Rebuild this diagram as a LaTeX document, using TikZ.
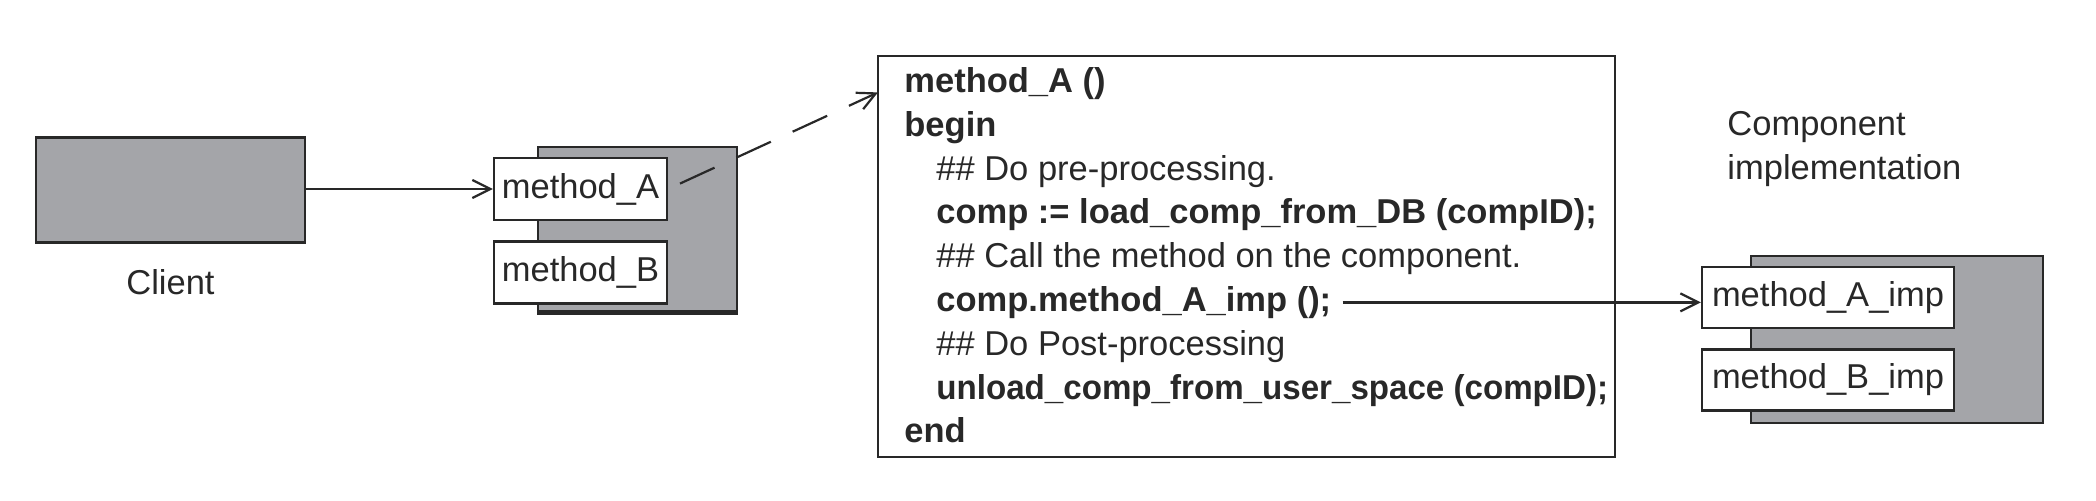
\documentclass[tikz,border=0pt]{standalone}
\usepackage{fontspec}
\setmainfont{Liberation Sans}
\usepackage{graphicx}
\usetikzlibrary{matrix,positioning,arrows.meta}

\definecolor{compgray}{RGB}{164,165,169}
\definecolor{inkgray}{RGB}{40,40,40}
\newcommand{\picfont}{\fontsize{17.25pt}{22pt}\selectfont}

\begin{document}
\begin{tikzpicture}[%
        x=0.5pt, y=-0.5pt,
        font=\picfont, text=inkgray,
        graybox/.style={draw=inkgray, line width=1.2pt, fill=compgray},
        methodbox/.style={draw=inkgray, line width=1.2pt, fill=white,
            minimum width=86.5pt, minimum height=31pt, inner sep=0pt},
        call/.style={draw=inkgray, line width=1.1pt,
            -{Straight Barb[length=9pt,width=9pt]}}
        ]
    \useasboundingbox (0,0) rectangle (2096,500);

    % Client
    \node (client) [graybox, minimum width=134.5pt, minimum height=52.5pt] at (170.5,190) {};
    \node (clientlbl) [below=9.5pt of client] {Client};

    % Komponente mit Methoden
    \node (comp) [graybox, minimum width=99.5pt, minimum height=82pt] at (637.5,229) {};
    \draw [inkgray, line width=2.4pt] (comp.south west) -- (comp.south east);
    \node (mA) [methodbox] at (580.5,189) {method\_A};
    \node (mB) [methodbox, below=9.5pt of mA] {method\_B};

    % Rahmen und Code
    \node (codebox) [draw=inkgray, line width=1.1pt, inner sep=0pt, outer sep=0pt,
        minimum width=368.5pt, minimum height=200.5pt, anchor=north west] at (878,56) {};
    \matrix (code) [
        matrix of nodes, anchor=north west,
        inner sep=0pt, row sep=4.9pt,
        nodes={anchor=base west, inner sep=0pt, text height=13pt, text depth=4pt,
            font=\picfont\bfseries},
        row 3/.style={nodes={font=\picfont}},
        row 5/.style={nodes={font=\picfont}},
        row 7/.style={nodes={font=\picfont}}
    ] at (904,66)
    {
        method\_A () \\
        begin \\
        \hspace*{16pt}\#\# Do pre-processing. \\
        \hspace*{16pt}comp := load\_comp\_from\_DB (compID); \\
        \hspace*{16pt}\#\# Call the method on the component. \\
        \hspace*{16pt}comp.method\_A\_imp (); \\
        \hspace*{16pt}\#\# Do Post-processing \\
        \hspace*{16pt}\scalebox{0.96}[1]{unload\_comp\_from\_user\_space (compID);} \\
        end \\
    };

    % Implementierung
    \node (impl) [graybox, minimum width=146pt, minimum height=83.5pt] at (1897,339.5) {};
    \node (mAimp) [methodbox, minimum width=126pt, minimum height=30.5pt] at (1828,297.5) {method\_A\_imp};
    \node (mBimp) [methodbox, minimum width=126pt, minimum height=30.5pt, below=9.5pt of mAimp] {method\_B\_imp};
    \node (impllbl) [align=left, anchor=north west, inner sep=0pt] at (1727,111) {Component\\implementation};

    % Aufrufe
    \draw [call] (client.east |- mA.west) -- (mA.west);
    \draw [call, dash pattern=on 19pt off 12pt, shorten <=6.5pt] (mA.east) -- (codebox.west |- code-1-1.base west);
    \draw [call, shorten <=5.5pt] (code-6-1.east) -- (code-6-1.east -| mAimp.west);

\end{tikzpicture}
\end{document}
